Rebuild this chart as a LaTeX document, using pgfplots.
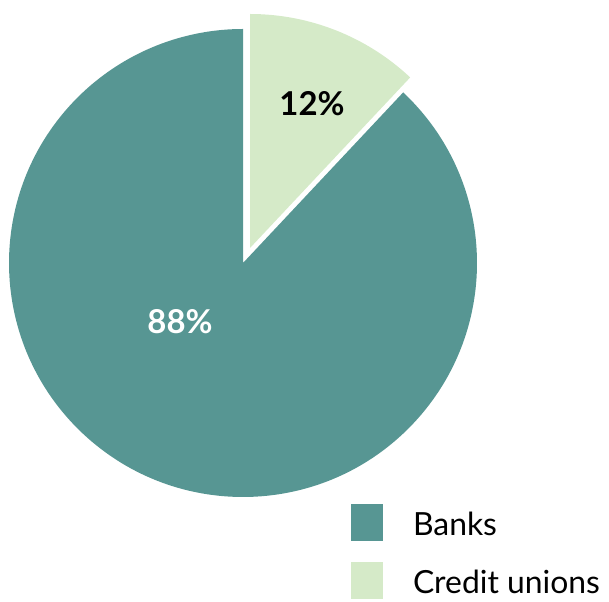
\documentclass[border=0pt]{standalone}
\usepackage{pgfplots}
\usepackage{pgfplotstable}
\pgfplotsset{compat=1.18}
\usepackage{fontspec}
\setmainfont{Lato}
\definecolor{bankcol}{HTML}{579693}
\definecolor{cucol}{HTML}{D5EAC8}
\pgfplotstableread{
label value
Banks 88
Credit 12
}\piedata
\begin{document}
\begin{tikzpicture}
\pgfplotstablegetelem{0}{value}\of\piedata \let\vBank\pgfplotsretval
\pgfplotstablegetelem{1}{value}\of\piedata \let\vCU\pgfplotsretval
\pgfmathsetmacro{\aCU}{90-3.6*\vCU}
\pgfmathsetmacro{\aBankEnd}{\aCU-3.6*\vBank}
\begin{axis}[
  width=609bp, height=602bp, scale only axis,
  xmin=0, xmax=609, ymin=0, ymax=602,
  hide axis, clip=false,
  legend style={at={(axis cs:351,98)}, anchor=north west, draw=none, fill=none,
    inner sep=0pt, outer sep=0pt, font=\fontsize{32}{32}\selectfont,
    row sep=21bp, nodes={inner sep=0pt, text depth=0pt, yshift=-1bp},
    /tikz/every odd column/.append style={column sep=30bp}},
  legend cell align=left,
  legend image code/.code={\fill[#1] (0bp,-18.5bp) rectangle (32bp,18.5bp);},
]
\addlegendimage{fill=bankcol, draw=none}
\addlegendentry{Banks}
\addlegendimage{fill=cucol, draw=none}
\addlegendentry{Credit unions}
% Banks slice
\fill[bankcol] (axis cs:243,339) -- ++(\aCU:234bp) arc[start angle=\aCU, end angle=\aBankEnd, radius=234bp] -- cycle;
% Credit unions slice (exploded)
\fill[cucol] (axis cs:250,354) -- ++(90:234bp) arc[start angle=90, end angle=\aCU, radius=234bp] -- cycle;
\node[font=\fontsize{33}{33}\selectfont\bfseries, text=black] at (axis cs:312,498) {\vCU\%};
\node[font=\fontsize{33}{33}\selectfont\bfseries, text=white] at (axis cs:180,280) {\vBank\%};
\end{axis}
\pgfresetboundingbox
\path[use as bounding box] (current axis.south west) rectangle (current axis.north east);
\end{tikzpicture}
\end{document}
